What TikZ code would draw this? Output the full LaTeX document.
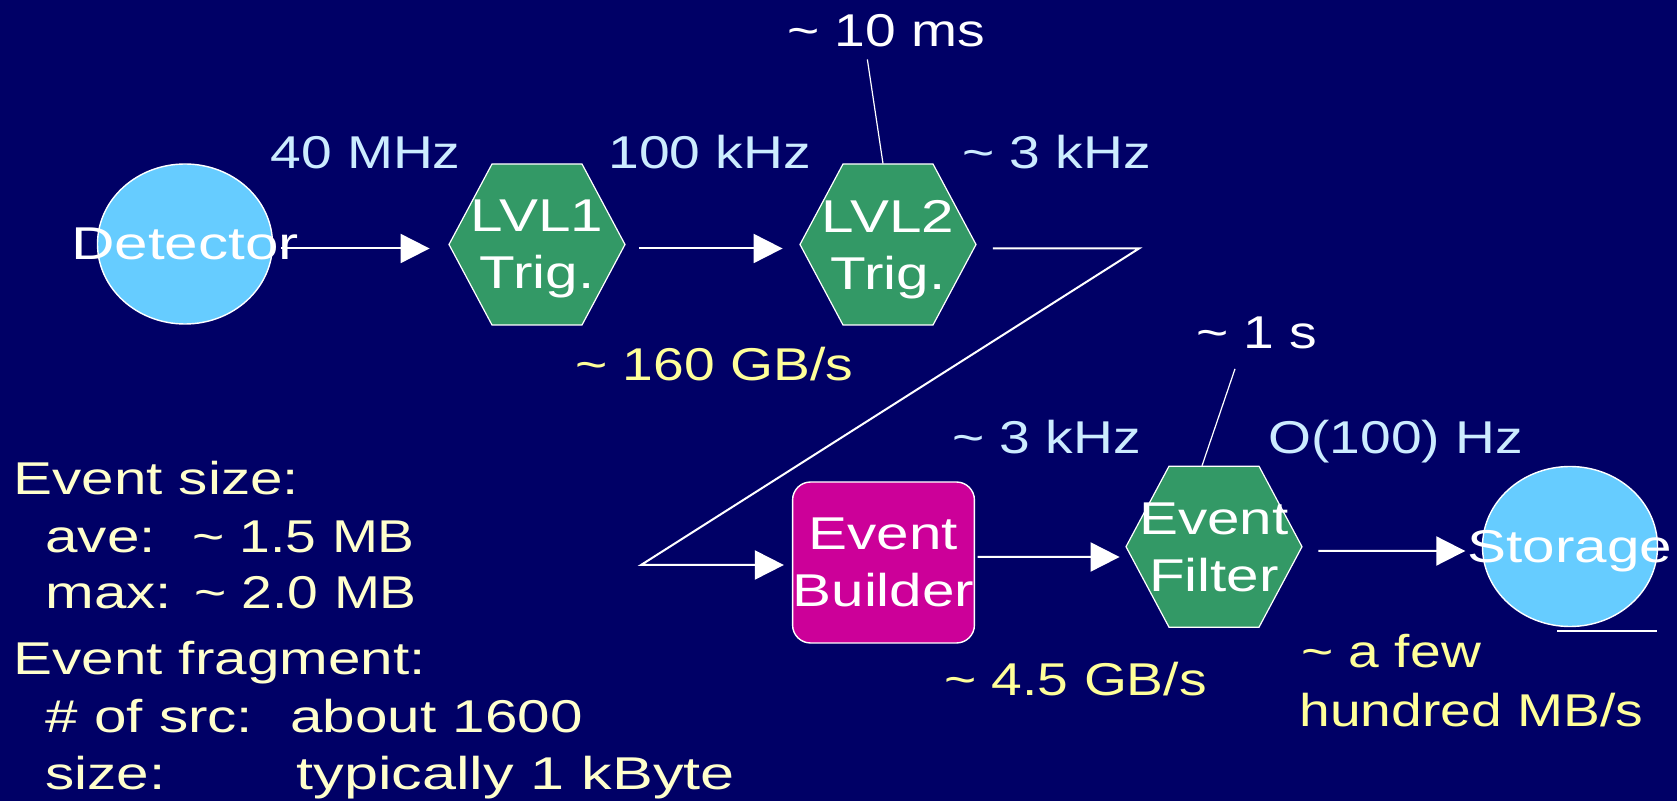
\documentclass[tikz,border=0pt]{standalone}
\usepackage{fontspec}
\setmainfont{Liberation Sans}[FakeStretch=1.2]
\newfontfamily\boxfont{Liberation Sans}[FakeStretch=1.27]
\newfontfamily\wideboxfont{Liberation Sans}[FakeStretch=1.31]
\newfontfamily\notefont{Liberation Sans}[FakeStretch=1.27]
\newfontfamily\widenotefont{Liberation Sans}[FakeStretch=1.33]
\usetikzlibrary{arrows.meta,calc,shapes.geometric}

\definecolor{slidebg}{HTML}{000066}
\definecolor{hexgreen}{HTML}{339966}
\definecolor{diskblue}{HTML}{66CCFF}
\definecolor{ebmagenta}{HTML}{CC0099}
\definecolor{ratecol}{HTML}{CCECFF}
\definecolor{bwcol}{HTML}{FFFF99}
\definecolor{notecol}{HTML}{FFFFCC}

% flat-topped hexagon centred on a coordinate
\newcommand\hexat[1]{%
  \path[hexfill] ($(#1)+(-88,0)$) -- ($(#1)+(-45,-80.5)$) -- ($(#1)+(45,-80.5)$)
    -- ($(#1)+(88,0)$) -- ($(#1)+(45,80.5)$) -- ($(#1)+(-45,80.5)$) -- cycle;}

\begin{document}
\begin{tikzpicture}[x=0.5pt,y=-0.5pt,
  every node/.style={inner sep=0pt, font=\fontsize{23}{28.5}\selectfont},
  boxtext/.style={text=white, align=center, text depth=0pt,
    font=\boxfont\fontsize{23}{28.5}\selectfont},
  hexbox/.style={boxtext, minimum width=88pt, minimum height=80.5pt},
  hexfill/.style={fill=hexgreen, draw=white, line width=0.6pt},
  disk/.style={ellipse, fill=diskblue, draw=white, line width=0.7pt,
    minimum width=87.5pt, minimum height=80pt},
  ebbox/.style={boxtext, rectangle, rounded corners=9pt, fill=ebmagenta,
    draw=white, line width=0.7pt, minimum width=89.5pt, minimum height=80.5pt},
  rate/.style={anchor=base west, text=ratecol},
  bw/.style={anchor=base west, text=bwcol},
  note/.style={anchor=base west, text=notecol,
    font=\notefont\fontsize{23}{28.5}\selectfont},
  narrownote/.style={anchor=base west, text=notecol},
  widenote/.style={anchor=base west, text=notecol,
    font=\widenotefont\fontsize{23}{28.5}\selectfont},
  timing/.style={anchor=base west, text=white},
  conn/.style={draw=white, line width=1pt, -{Triangle[length=14.5pt,width=14.5pt]}},
  lead/.style={draw=white, line width=0.6pt}]

% slide background
\fill[slidebg] (0,0) rectangle (1677,801);
\useasboundingbox (0,0) rectangle (1677,801);

% shapes of the data-flow chain
\node[disk] (det) at (185,244) {};
\node[boxtext, font=\wideboxfont\fontsize{23}{28.5}\selectfont] (dettxt) at (det) {Detector};

\coordinate (c1) at (537,244.5);
\hexat{c1}
\node[hexbox] (l1) at (c1) {LVL1\\Trig.};

\coordinate (c2) at (888,244.5);
\hexat{c2}
\node[hexbox] (l2) at (c2) {LVL2\\Trig.};

\node[ebbox] (eb) at (883.5,562.5) {Event\\Builder};

\coordinate (c3) at (1214,546.7);
\hexat{c3}
\node[hexbox] (ef) at (c3) {Event\\Filter};

\node[disk] (st) at (1570,546.5) {};
\node[boxtext] (sttxt) at (st) {Storage};

% rates, latencies and bandwidths
\node[rate] (r40) at (270,169) {40 MHz};
\node[rate] (r100) at (608,169) {100 kHz};
\node[rate] (r3a) at (962,168.5) {\textasciitilde{} 3 kHz};
\node[rate] (r3b) at (952,454) {\textasciitilde{} 3 kHz};
\node[rate] (r100hz) at (1268,454) {O(100) Hz};
\node[timing] (tms) at (787,46.5) {\textasciitilde{} 10 ms};
\node[timing] (tos) at (1196,349) {\textasciitilde{} 1 s};
\node[bw] (b160) at (575,380.5) {\textasciitilde{} 160 GB/s};
\node[bw] (b45) at (944,696) {\textasciitilde{} 4.5 GB/s};
\node[bw] (bfew) at (1301,668) {\textasciitilde{} a few};
\node[bw] (bhund) at (1299,726.5) {hundred MB/s};

% event size notes
\node[note] (n1) at (13,494.5) {Event size:};
\node[note] (n2) at (45,552.7) {ave:};
\node[narrownote] (n2v) at (192,552.7) {\textasciitilde{} 1.5 MB};
\node[note] (n3) at (45,608.3) {max:};
\node[narrownote] (n3v) at (194,608.3) {\textasciitilde{} 2.0 MB};
\node[note] (n4) at (13,675) {Event fragment:};
\node[note] (n5) at (45,732.3) {\# of src:};
\node[note] (n5v) at (290,732.3) {about 1600};
\node[note] (n6) at (45,790) {size:};
\node[widenote] (n6v) at (296,790) {typically 1 kByte};

% connectors
\coordinate (zz1) at (1139,248.5);
\coordinate (zz2) at (641,565);
\draw[conn] ($(det.east)+(8,4.5)$) -- ($(l1.west)+(-19,4)$);
\draw[conn] ($(l1.east)+(13.5,4)$) -- ($(l2.west)+(-17,4)$);
\draw[conn] ($(l2.east)+(16.5,4)$) -- (zz1) -- (zz2) -- ($(eb.west)+(-8,2.5)$);
\draw[conn] ($(eb.east)+(2.5,-5.5)$) -- ($(ef.west)+(-6,10.3)$);
\draw[conn] ($(ef.east)+(16,4.3)$) -- ($(st.west)+(-16.5,4.5)$);

% leader lines of the timing labels
\draw[lead] ($(tms.south)+(-19,12)$) -- ($(l2.north)+(-5,0)$);
\draw[lead] ($(tos.south)+(-22,19)$) -- ($(ef.north)+(-12,0)$);

% rule under the storage disk
\draw[white, line width=1pt] ($(st.south)+(-13,3.5)$) -- ($(st.south)+(87,3.5)$);
\end{tikzpicture}
\end{document}
